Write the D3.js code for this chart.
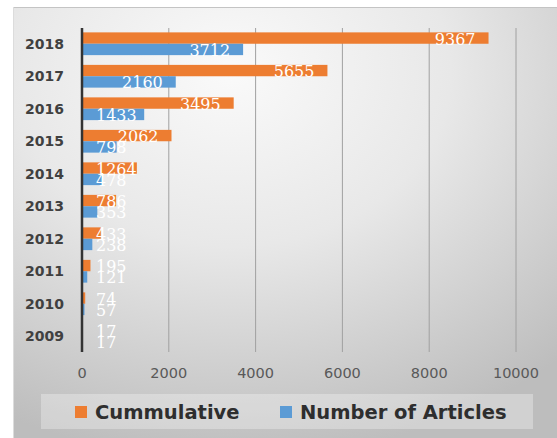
<!DOCTYPE html>
<html>
<head>
<meta charset="utf-8">
<script src="https://cdn.jsdelivr.net/npm/d3@7"></script>
<style>
  body { margin: 0; background: #fff; }
</style>
</head>
<body>
<div id="chart"></div>
<script>
// data
const years = ["2009", "2010", "2011", "2012", "2013", "2014", "2015", "2016", "2017", "2018"];
const cumulative = [17, 74, 195, 433, 786, 1264, 2062, 3495, 5655, 9367];
const articles = [17, 57, 121, 238, 353, 478, 798, 1433, 2160, 3712];
const xTicks = [0, 2000, 4000, 6000, 8000, 10000];
const seriesNames = ["Cummulative", "Number of Articles"];
const colors = ["#ED7D31", "#5B9BD5"];

const W = 557, H = 438;

const svg = d3.select("#chart")
  .append("svg")
  .attr("width", W)
  .attr("height", H);

// background gradient
const defs = svg.append("defs");
const bg = defs.append("radialGradient")
  .attr("id", "bg")
  .attr("cx", "40%").attr("cy", "15%")
  .attr("r", "90%");
bg.append("stop").attr("offset", "0%").attr("stop-color", "#fafafa");
bg.append("stop").attr("offset", "45%").attr("stop-color", "#e8e8e8");
bg.append("stop").attr("offset", "100%").attr("stop-color", "#bdbdbd");

svg.append("rect")
  .attr("x", 13).attr("y", 7)
  .attr("width", W - 13).attr("height", H - 7)
  .attr("fill", "url(#bg)");
svg.append("line")
  .attr("x1", 13).attr("x2", W)
  .attr("y1", 7.5).attr("y2", 7.5)
  .attr("stroke", "#c4c4c4");
svg.append("line")
  .attr("x1", 13.5).attr("x2", 13.5)
  .attr("y1", 7).attr("y2", H)
  .attr("stroke", "#dcdcdc");

// scales
const x = d3.scaleLinear().domain([0, 10000]).range([82, 516]);
const y = d3.scaleBand()
  .domain(years.slice().reverse())
  .range([27.5, 352.5])
  .paddingInner(0.3)
  .paddingOuter(0.15);
const sub = d3.scaleBand()
  .domain([0, 1])
  .range([0, y.bandwidth()]);

// gridlines
svg.append("g")
  .selectAll("line")
  .data(xTicks.slice(1))
  .join("line")
  .attr("x1", d => x(d)).attr("x2", d => x(d))
  .attr("y1", 28).attr("y2", 352)
  .attr("stroke", "#a0a0a0")
  .attr("stroke-width", 1);

// x tick labels
svg.append("g")
  .selectAll("text")
  .data(xTicks)
  .join("text")
  .attr("x", d => x(d))
  .attr("y", 373)
  .attr("text-anchor", "middle")
  .attr("dominant-baseline", "central")
  .style("font-family", "'DejaVu Sans', sans-serif")
  .style("font-size", "14.5px")
  .attr("fill", "#595959")
  .text(d => d);

// bars
const rows = years.map((yr, i) => ({ year: yr, vals: [cumulative[i], articles[i]] }));

const groups = svg.append("g")
  .selectAll("g")
  .data(rows)
  .join("g")
  .attr("transform", d => `translate(0,${y(d.year)})`);

groups.selectAll("rect")
  .data(d => d.vals.map((v, k) => ({ v, k })))
  .join("rect")
  .attr("x", x(0))
  .attr("y", d => sub(d.k))
  .attr("width", d => x(d.v) - x(0))
  .attr("height", sub.bandwidth())
  .attr("fill", d => colors[d.k]);

// value labels (white, inside end, pushed right for short bars)
groups.selectAll("text")
  .data(d => d.vals.map((v, k) => ({ v, k })))
  .join("text")
  .attr("y", d => sub(d.k) + sub.bandwidth() / 2 + 1)
  .attr("dominant-baseline", "central")
  .style("font-family", "'DejaVu Serif', serif")
  .style("font-size", "16px")
  .attr("fill", "#fff")
  .text(d => d.v)
  .attr("x", function (d) {
    const w = this.getComputedTextLength();
    return Math.max(x(d.v) - 13 - w, 96);
  });

// y axis line
svg.append("line")
  .attr("x1", x(0)).attr("x2", x(0))
  .attr("y1", 28).attr("y2", 352)
  .attr("stroke", "#333")
  .attr("stroke-width", 2.5);

// year labels
svg.append("g")
  .selectAll("text")
  .data(years)
  .join("text")
  .attr("x", 64)
  .attr("y", d => y(d) + y.bandwidth() / 2)
  .attr("text-anchor", "end")
  .attr("dominant-baseline", "central")
  .style("font-family", "'DejaVu Sans', sans-serif")
  .style("font-weight", "bold")
  .style("font-size", "14px")
  .attr("fill", "#404040")
  .text(d => d);

// legend
svg.append("rect")
  .attr("x", 41).attr("y", 394)
  .attr("width", 492).attr("height", 35)
  .attr("fill", "#fff")
  .attr("fill-opacity", 0.3);

const legendX = [75, 280];
const legend = svg.append("g")
  .selectAll("g")
  .data(seriesNames)
  .join("g")
  .attr("transform", (d, i) => `translate(${legendX[i]},406)`);

legend.append("rect")
  .attr("width", 12).attr("height", 12)
  .attr("fill", (d, i) => colors[i]);

legend.append("text")
  .attr("x", 20)
  .attr("y", 6.5)
  .attr("dominant-baseline", "central")
  .style("font-family", "'DejaVu Sans', sans-serif")
  .style("font-weight", "bold")
  .style("font-size", "19.5px")
  .attr("fill", "#2e2e2e")
  .text(d => d);
</script>
</body>
</html>
